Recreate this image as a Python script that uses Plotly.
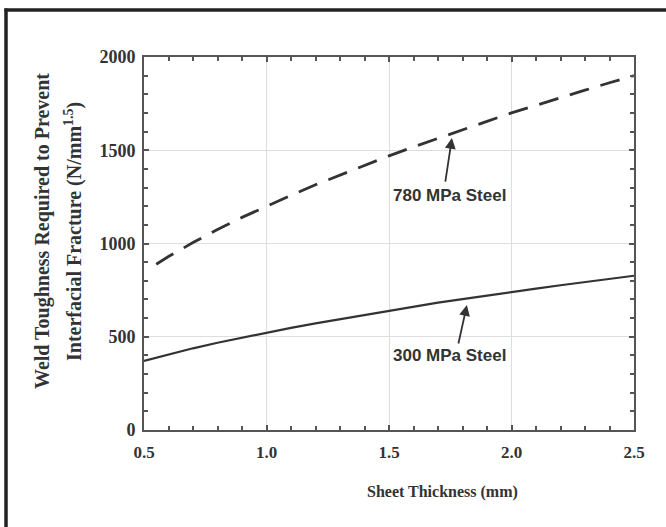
import plotly.graph_objects as go

# Data
thickness_300 = [0.5, 0.6, 0.7, 0.8, 0.9, 1.0, 1.1, 1.2, 1.3, 1.4, 1.5, 1.6, 1.7, 1.8, 1.9, 2.0, 2.1, 2.2, 2.3, 2.4, 2.5]
toughness_300 = [370, 405, 438, 468, 496, 522, 548, 572, 595, 618, 641, 662, 683, 702, 722, 740, 758, 776, 793, 810, 827]
thickness_780 = [0.55, 0.6, 0.7, 0.8, 0.9, 1.0, 1.1, 1.2, 1.3, 1.4, 1.5, 1.6, 1.7, 1.8, 1.9, 2.0, 2.1, 2.2, 2.3, 2.4, 2.5]
toughness_780 = [889, 930, 1005, 1075, 1140, 1200, 1258, 1315, 1368, 1420, 1470, 1518, 1565, 1612, 1655, 1700, 1742, 1782, 1822, 1862, 1900]

x_ticks = [0.5, 1.0, 1.5, 2.0, 2.5]
x_tick_labels = ["0.5", "1.0", "1.5", "2.0", "2.5"]
y_ticks = [0, 500, 1000, 1500, 2000]
y_tick_labels = ["0", "500", "1000", "1500", "2000"]

label_780 = "780 MPa Steel"
label_300 = "300 MPa Steel"

INK = "#333333"
SERIF = "Liberation Serif, Times New Roman, serif"
SANS = "Liberation Sans, Arial, sans-serif"

fig = go.Figure()
fig.add_trace(go.Scatter(x=thickness_780, y=toughness_780, mode="lines",
                         line=dict(color=INK, width=2.8, dash="20px,12px"),
                         showlegend=False, hoverinfo="skip"))
fig.add_trace(go.Scatter(x=thickness_300, y=toughness_300, mode="lines",
                         line=dict(color=INK, width=2.2),
                         showlegend=False, hoverinfo="skip"))

axis_common = dict(
    showline=True, linecolor="#555555", linewidth=2, mirror="allticks",
    ticks="inside", ticklen=5, tickwidth=1.5, tickcolor="#555555",
    showgrid=True, gridcolor="#dddddd", gridwidth=1, zeroline=False,
)

fig.update_xaxes(range=[0.5, 2.5], tickvals=x_ticks,
                 ticktext=["<b>" + t + "</b>" for t in x_tick_labels],
                 tickfont=dict(family=SERIF, size=17, color=INK), ticklabelstandoff=6,
                 minor=dict(dtick=0.1, ticks="inside", ticklen=4, tickcolor="#555555", showgrid=False),
                 **axis_common)
fig.update_yaxes(range=[0, 2000], tickvals=y_ticks,
                 ticktext=["<b>" + t + "</b>" for t in y_tick_labels],
                 tickfont=dict(family=SERIF, size=18, color=INK), ticklabelstandoff=3,
                 minor=dict(dtick=100, ticks="inside", ticklen=4, tickcolor="#555555", showgrid=False),
                 **axis_common)

annotations = []
# arrows
annotations.append(dict(x=1.757, y=1566, ax=1.729, ay=1324, xref="x", yref="y", axref="x", ayref="y",
                        text="", showarrow=True, arrowhead=2, arrowsize=1.2, arrowwidth=1.8, arrowcolor=INK))
annotations.append(dict(x=1.818, y=670, ax=1.782, ay=456, xref="x", yref="y", axref="x", ayref="y",
                        text="", showarrow=True, arrowhead=2, arrowsize=1.2, arrowwidth=1.8, arrowcolor=INK))
# labels
annotations.append(dict(x=1.745, y=1260, xref="x", yref="y", text="<b>" + label_780 + "</b>", showarrow=False,
                        xanchor="center", yanchor="middle",
                        font=dict(family=SANS, size=17, color=INK)))
annotations.append(dict(x=1.745, y=402, xref="x", yref="y", text="<b>" + label_300 + "</b>", showarrow=False,
                        xanchor="center", yanchor="middle",
                        font=dict(family=SANS, size=17, color=INK)))
# axis titles
annotations.append(dict(x=(442 - 144) / 490, y=(430 - 492) / 373, xref="paper", yref="paper",
                        xanchor="center", yanchor="middle",
                        text="<b>Sheet Thickness (mm)</b>", showarrow=False,
                        font=dict(family=SERIF, size=16, color=INK)))
annotations.append(dict(x=(42 - 144) / 490, y=(430 - 231) / 373, xref="paper", yref="paper",
                        xanchor="center", yanchor="middle",
                        text="<b>Weld Toughness Required to Prevent</b>", showarrow=False, textangle=-90,
                        font=dict(family=SERIF, size=20, color=INK)))
annotations.append(dict(x=(73 - 144) / 490, y=(430 - 232) / 373, xref="paper", yref="paper",
                        xanchor="center", yanchor="middle",
                        text="<b>Interfacial Fracture (N/mm<sup>1.5</sup>)</b>", showarrow=False, textangle=-90,
                        font=dict(family=SERIF, size=20, color=INK)))

# outer frame (left and top edges visible)
shapes = [
    dict(type="line", xref="paper", yref="paper", x0=(6 - 144) / 490, x1=(6 - 144) / 490,
         y0=(430 - 530) / 373, y1=(430 - 8.5) / 373, line=dict(color="#222222", width=3.5)),
    dict(type="line", xref="paper", yref="paper", x0=(4.5 - 144) / 490, x1=(670 - 144) / 490,
         y0=(430 - 10) / 373, y1=(430 - 10) / 373, line=dict(color="#222222", width=3.5)),
]

fig.update_layout(
    width=666, height=527,
    margin=dict(l=144, r=32, t=57, b=97),
    paper_bgcolor="white", plot_bgcolor="white",
    annotations=annotations, shapes=shapes,
    showlegend=False,
)

fig.write_html("out.html")
